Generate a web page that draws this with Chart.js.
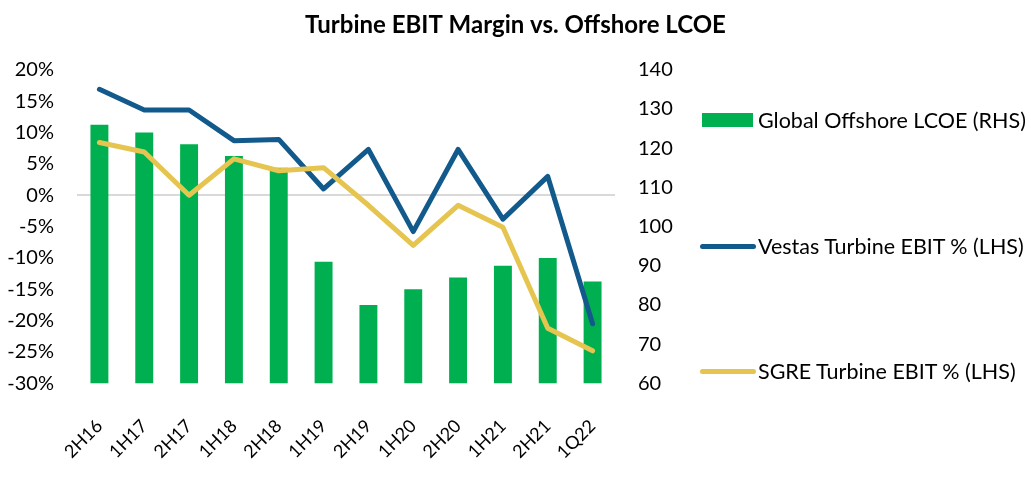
<!DOCTYPE html>
<html>
<head>
<meta charset="utf-8">
<script src="https://cdn.jsdelivr.net/npm/chart.js@4/dist/chart.umd.min.js"></script>
<style>
  body { margin: 0; background: #fff; }
  #wrap { position: relative; width: 1031px; height: 487px; overflow: hidden; }
  #legend { position: absolute; left: 700px; top: 0; font-family: Lato, sans-serif; font-size: 21.5px; color: #000; }
  .item { position: absolute; left: 0; white-space: nowrap; height: 24px; line-height: 24px; }
  .swatch { position: absolute; }
  .item span.txt { position: absolute; left: 58px; top: 0; }
</style>
</head>
<body>
<div id="wrap">
  <canvas id="myChart" width="1031" height="487"></canvas>
  <div id="legend"></div>
</div>
<script>
var periods = ['2H16', '1H17', '2H17', '1H18', '2H18', '1H19', '2H19', '1H20', '2H20', '1H21', '2H21', '1Q22'];
var lcoe = [126, 124, 121, 118, 115, 91, 80, 84, 87, 90, 92, 86];
var vestasEbit = [16.9, 13.6, 13.6, 8.7, 8.9, 1.0, 7.3, -5.8, 7.3, -3.8, 3.0, -20.5];
var sgreEbit = [8.4, 6.9, 0, 5.8, 3.9, 4.4, -1.6, -8.0, -1.6, -5.1, -21.2, -24.8];

var green = '#00b050';
var blue = '#125a8c';
var yellow = '#e5c550';
var font = 'Lato';

var ctx = document.getElementById('myChart').getContext('2d');
var myChart = new Chart(ctx, {
  data: {
    labels: periods,
    datasets: [{
      type: 'line',
      label: 'SGRE Turbine EBIT % (LHS)',
      data: sgreEbit,
      borderColor: yellow,
      backgroundColor: yellow,
      borderWidth: 5,
      pointRadius: 0,
      tension: 0,
      borderCapStyle: 'round',
      borderJoinStyle: 'round',
      yAxisID: 'y',
      order: 0
    }, {
      type: 'line',
      label: 'Vestas Turbine EBIT % (LHS)',
      data: vestasEbit,
      borderColor: blue,
      backgroundColor: blue,
      borderWidth: 5,
      pointRadius: 0,
      tension: 0,
      borderCapStyle: 'round',
      borderJoinStyle: 'round',
      yAxisID: 'y',
      order: 1
    }, {
      type: 'bar',
      label: 'Global Offshore LCOE (RHS)',
      data: lcoe,
      backgroundColor: green,
      borderWidth: 0,
      barPercentage: 0.4,
      categoryPercentage: 1,
      base: 60,
      yAxisID: 'y1',
      order: 2
    }]
  },
  options: {
    responsive: false,
    animation: false,
    layout: { padding: { top: 0, left: 0, right: 0, bottom: 0 } },
    plugins: {
      legend: { display: false },
      tooltip: { enabled: false },
      title: {
        display: true,
        text: 'Turbine EBIT Margin vs. Offshore LCOE',
        color: '#000',
        font: { family: font, size: 24, weight: 'bold' },
        padding: { top: 11, bottom: 30 }
      }
    },
    scales: {
      x: {
        grid: { display: false },
        border: { display: false },
        ticks: {
          color: '#000',
          font: { family: font, size: 18 },
          minRotation: 45,
          maxRotation: 45,
          padding: 24
        }
      },
      y: {
        position: 'left',
        min: -30,
        max: 20,
        border: { display: false },
        grid: {
          drawTicks: false,
          lineWidth: 2,
          color: function (c) { return c.tick && c.tick.value === 0 ? '#d9d9d9' : 'rgba(0,0,0,0)'; }
        },
        ticks: {
          stepSize: 5,
          color: '#000',
          padding: 23,
          font: { family: font, size: 20 },
          callback: function (v) { return v + '%'; }
        },
        afterFit: function (scale) { scale.width = 77; }
      },
      y1: {
        position: 'right',
        min: 60,
        max: 140,
        border: { display: false },
        grid: { display: false, drawTicks: false },
        ticks: {
          stepSize: 10,
          color: '#000',
          padding: 23,
          font: { family: font, size: 20 }
        },
        afterFit: function (scale) { scale.width = 416; }
      }
    }
  }
});

// Chart.js reserves extra room under the slanted labels; grow the canvas
// (clipped by #wrap) so the plot bottom lands where the original has it
var extra = 418 - myChart.chartArea.bottom;
if (extra > 0) {
  myChart.resize(1031, 487 + extra);
}

// legend built from the datasets, placed to the right of the plot
var legendRows = [
  { ds: 2, y: 120, kind: 'box' },
  { ds: 1, y: 246, kind: 'line' },
  { ds: 0, y: 371, kind: 'line' }
];
var legendEl = document.getElementById('legend');
legendRows.forEach(function (r) {
  var ds = myChart.data.datasets[r.ds];
  var item = document.createElement('div');
  item.className = 'item';
  item.style.top = (r.y - 12) + 'px';
  var sw = document.createElement('div');
  sw.className = 'swatch';
  if (r.kind === 'box') {
    sw.style.left = '2px';
    sw.style.width = '51px';
    sw.style.top = '5px';
    sw.style.height = '14px';
    sw.style.background = ds.backgroundColor;
  } else {
    sw.style.left = '0px';
    sw.style.width = '56px';
    sw.style.top = '10px';
    sw.style.height = '5px';
    sw.style.borderRadius = '3px';
    sw.style.background = ds.borderColor;
  }
  var t = document.createElement('span');
  t.className = 'txt';
  t.textContent = ds.label;
  item.appendChild(sw);
  item.appendChild(t);
  legendEl.appendChild(item);
});
</script>
</body>
</html>
